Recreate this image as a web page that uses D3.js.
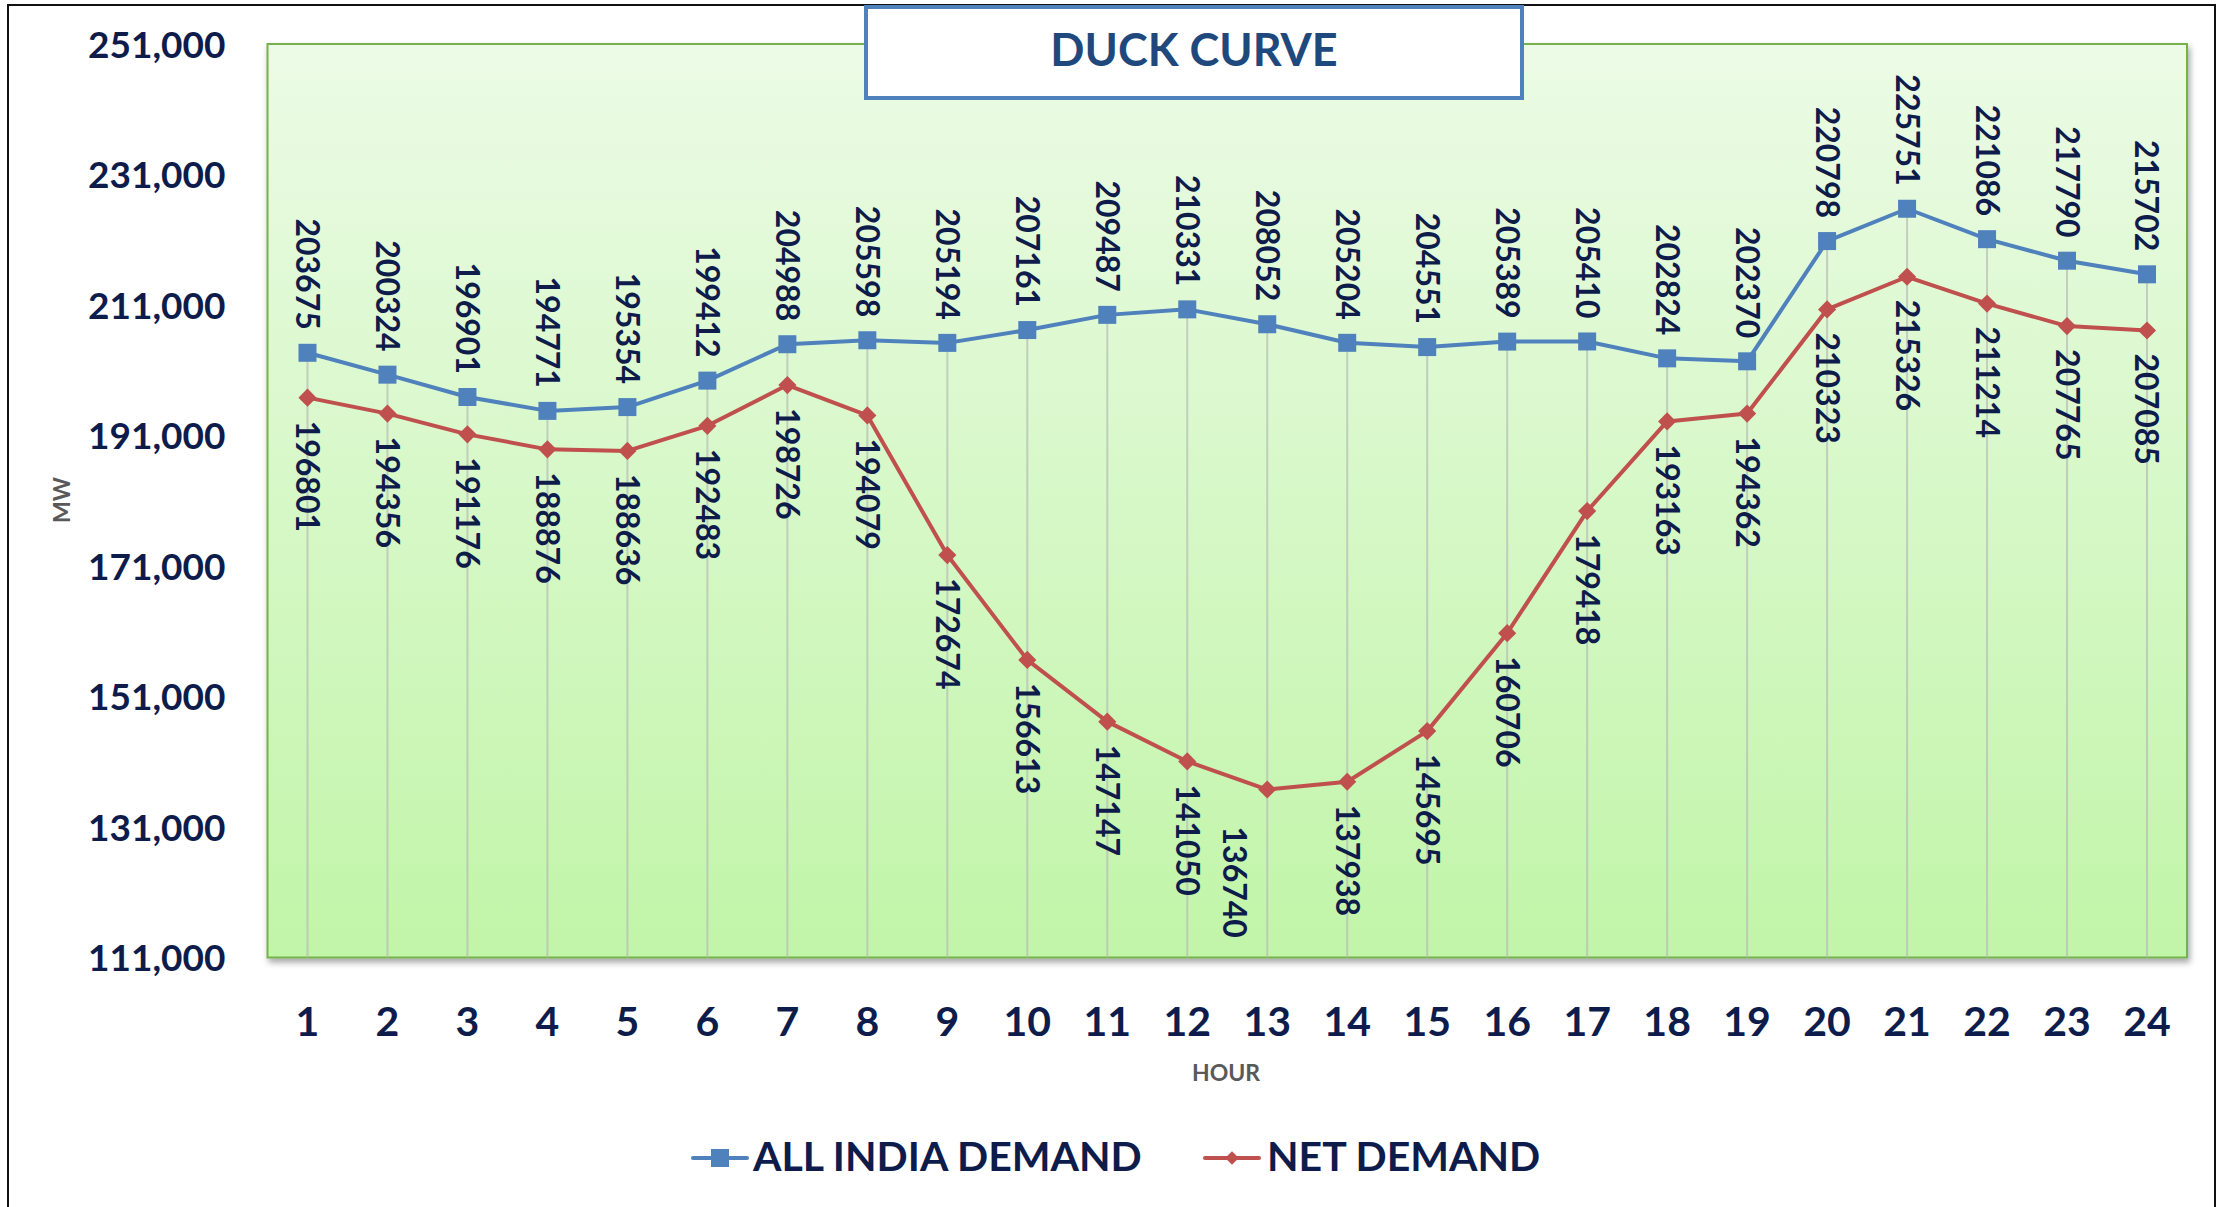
<!DOCTYPE html>
<html>
<head>
<meta charset="utf-8">
<script src="https://cdn.jsdelivr.net/npm/d3@7"></script>
<style>
  body { margin: 0; background: #ffffff; }
  svg { display: block; font-family: Lato, "Open Sans", sans-serif; }
  .tick text { font-weight: bold; fill: #0e1c4b; }
  .datalabel { font-weight: bold; fill: #0e1c4b; font-size: 32px; }
</style>
</head>
<body>
<div id="chart"></div>
<script>

// data
var hours = ["1","2","3","4","5","6","7","8","9","10","11","12","13","14","15","16","17","18","19","20","21","22","23","24"];

var allIndiaDemand = [203675, 200324, 196901, 194771, 195354, 199412, 204988, 205598, 205194, 207161, 209487, 210331,
                      208052, 205204, 204551, 205389, 205410, 202824, 202370, 220798, 225751, 221086, 217790, 215702];

var netDemand = [196801, 194356, 191176, 188876, 188636, 192483, 198726, 194079, 172674, 156613, 147147, 141050,
                 136740, 137938, 145695, 160706, 179418, 193163, 194362, 210323, 215326, 211214, 207765, 207085];

var yTickValues = [111000, 131000, 151000, 171000, 191000, 211000, 231000, 251000];
var seriesNames = ["ALL INDIA DEMAND", "NET DEMAND"];
var chartTitle = "DUCK CURVE";
var xTitle = "HOUR";
var yTitle = "MW";


/**
 * Constructor for the duck curve chart
 */
function DuckChart(){
    var self = this;
    self.init();
};

/**
 * Creates the svg, the scales and the plot background
 */
DuckChart.prototype.init = function(){
    var self = this;

    self.width = 2231;
    self.height = 1207;
    self.plot = {left: 267.5, right: 2187, top: 44, bottom: 957.5};

    self.svg = d3.select("#chart").append("svg")
        .attr("width", self.width)
        .attr("height", self.height);

    self.xScale = d3.scaleBand()
        .domain(hours)
        .range([self.plot.left, self.plot.right]);

    self.yScale = d3.scaleLinear()
        .domain([111000, 251000])
        .range([self.plot.bottom, self.plot.top]);

    var defs = self.svg.append("defs");

    var grad = defs.append("linearGradient")
        .attr("id", "plotFill")
        .attr("x1", 0).attr("y1", 0).attr("x2", 0).attr("y2", 1);
    grad.append("stop").attr("offset", "0%").attr("stop-color", "#ecfbe6");
    grad.append("stop").attr("offset", "100%").attr("stop-color", "#c1f5a8");

    var shadow = defs.append("filter")
        .attr("id", "plotShadow")
        .attr("x", "-5%").attr("y", "-5%").attr("width", "110%").attr("height", "110%");
    shadow.append("feDropShadow")
        .attr("dx", 2).attr("dy", 4)
        .attr("stdDeviation", 3)
        .attr("flood-color", "#000000")
        .attr("flood-opacity", 0.35);

    //outer frame of the chart
    self.svg.append("rect")
        .attr("x", 8).attr("y", 5)
        .attr("width", 2207).attr("height", 1220)
        .attr("fill", "none")
        .attr("stroke", "#111111")
        .attr("stroke-width", 2);

    //plot area
    self.svg.append("rect")
        .attr("x", self.plot.left)
        .attr("y", self.plot.top)
        .attr("width", self.plot.right - self.plot.left)
        .attr("height", self.plot.bottom - self.plot.top)
        .attr("fill", "url(#plotFill)")
        .attr("stroke", "#74b24e")
        .attr("stroke-width", 2)
        .attr("filter", "url(#plotShadow)");
};

/**
 * Draws the axes, drop lines, series, labels, title and legend
 */
DuckChart.prototype.update = function(){
    var self = this;
    var x = self.xScale, y = self.yScale;
    var half = x.bandwidth() / 2;

    var rows = hours.map(function(h, i){
        return {hour: h, total: allIndiaDemand[i], net: netDemand[i]};
    });

    //drop lines from the highest point down to the axis
    self.svg.append("g").selectAll("line")
        .data(rows)
        .enter()
        .append("line")
        .attr("x1", function(d){ return x(d.hour) + half; })
        .attr("x2", function(d){ return x(d.hour) + half; })
        .attr("y1", function(d){ return y(Math.max(d.total, d.net)); })
        .attr("y2", self.plot.bottom)
        .attr("stroke", "#b9b9b9")
        .attr("stroke-opacity", 0.7)
        .attr("stroke-width", 2);

    //y axis
    var yAxis = self.svg.append("g")
        .attr("transform", "translate(" + self.plot.left + ",0)")
        .call(d3.axisLeft(y).tickValues(yTickValues).tickSize(0).tickPadding(42).tickFormat(d3.format(",")));
    yAxis.select(".domain").remove();
    yAxis.selectAll("text")
        .attr("dy", "0.36em")
        .style("font-size", "37px")
        .style("font-family", "Lato");

    //x axis
    var xAxis = self.svg.append("g")
        .attr("transform", "translate(0," + self.plot.bottom + ")")
        .call(d3.axisBottom(x).tickSize(0));
    xAxis.select(".domain").remove();
    xAxis.selectAll("text")
        .attr("y", 78)
        .attr("dy", 0)
        .style("font-size", "41px")
        .style("font-family", "Lato");

    //axis titles
    self.svg.append("text")
        .attr("x", 1226).attr("y", 1081)
        .attr("text-anchor", "middle")
        .attr("font-size", 23).attr("font-weight", "bold")
        .attr("fill", "#595959")
        .text(xTitle);

    self.svg.append("text")
        .attr("transform", "translate(70,500) rotate(-90)")
        .attr("text-anchor", "middle")
        .attr("font-size", 23).attr("font-weight", "bold")
        .attr("fill", "#595959")
        .text(yTitle);

    var series = [
        {name: seriesNames[0], key: "total", color: "#4f81bd", marker: d3.symbolSquare, size: 18 * 18, legendSize: 18 * 18, above: true},
        {name: seriesNames[1], key: "net", color: "#c0504d", marker: d3.symbolDiamond2, size: 210, legendSize: 115, above: false}
    ];

    series.forEach(function(s){
        var line = d3.line()
            .x(function(d){ return x(d.hour) + half; })
            .y(function(d){ return y(d[s.key]); });

        self.svg.append("path")
            .datum(rows)
            .attr("d", line)
            .attr("fill", "none")
            .attr("stroke", s.color)
            .attr("stroke-width", 4)
            .attr("stroke-linejoin", "round");

        self.svg.append("g").selectAll("path")
            .data(rows)
            .enter()
            .append("path")
            .attr("d", d3.symbol().type(s.marker).size(s.size))
            .attr("transform", function(d){
                return "translate(" + (x(d.hour) + half) + "," + y(d[s.key]) + ")";
            })
            .attr("fill", s.color);
    });

    //data labels, rotated to read downwards
    //one label (hour 13, net demand) was moved by hand in the original
    var labelNudge = {"net13": [-33, 14]};

    series.forEach(function(s){
        self.svg.append("g").selectAll("text")
            .data(rows)
            .enter()
            .append("text")
            .attr("class", "datalabel")
            .attr("transform", function(d){
                var nudge = labelNudge[s.key + d.hour] || [0, 0];
                var px = x(d.hour) + half + nudge[0];
                var py = y(d[s.key]) + (s.above ? -23 : 23) + nudge[1];
                return "translate(" + px + "," + py + ") rotate(90)";
            })
            .attr("dy", "0.36em")
            .attr("text-anchor", s.above ? "end" : "start")
            .text(function(d){ return d[s.key]; });
    });

    //title box
    self.svg.append("rect")
        .attr("x", 866).attr("y", 7)
        .attr("width", 656).attr("height", 91)
        .attr("fill", "#ffffff")
        .attr("stroke", "#4f81bd")
        .attr("stroke-width", 4);

    self.svg.append("text")
        .attr("x", 1194).attr("y", 66)
        .attr("text-anchor", "middle")
        .attr("font-size", 45).attr("font-weight", "bold")
        .attr("fill", "#1f497d")
        .text(chartTitle);

    //legend
    var legendPos = [720, 1232];
    var legend = self.svg.append("g").selectAll("g")
        .data(series)
        .enter()
        .append("g")
        .attr("transform", function(d, i){ return "translate(" + legendPos[i] + ",1158)"; });

    legend.append("line")
        .attr("x1", -27).attr("x2", 27)
        .attr("stroke", function(d){ return d.color; })
        .attr("stroke-width", 4)
        .attr("stroke-linecap", "round");

    legend.append("path")
        .attr("d", function(d){ return d3.symbol().type(d.marker).size(d.legendSize)(); })
        .attr("fill", function(d){ return d.color; });

    legend.append("text")
        .attr("x", function(d, i){ return i == 0 ? 33 : 35; })
        .attr("y", 13)
        .attr("font-size", 41).attr("font-weight", "bold")
        .attr("fill", "#0e1c4b")
        .text(function(d){ return d.name; });
};

var chart = new DuckChart();
chart.update();

</script>
</body>
</html>
